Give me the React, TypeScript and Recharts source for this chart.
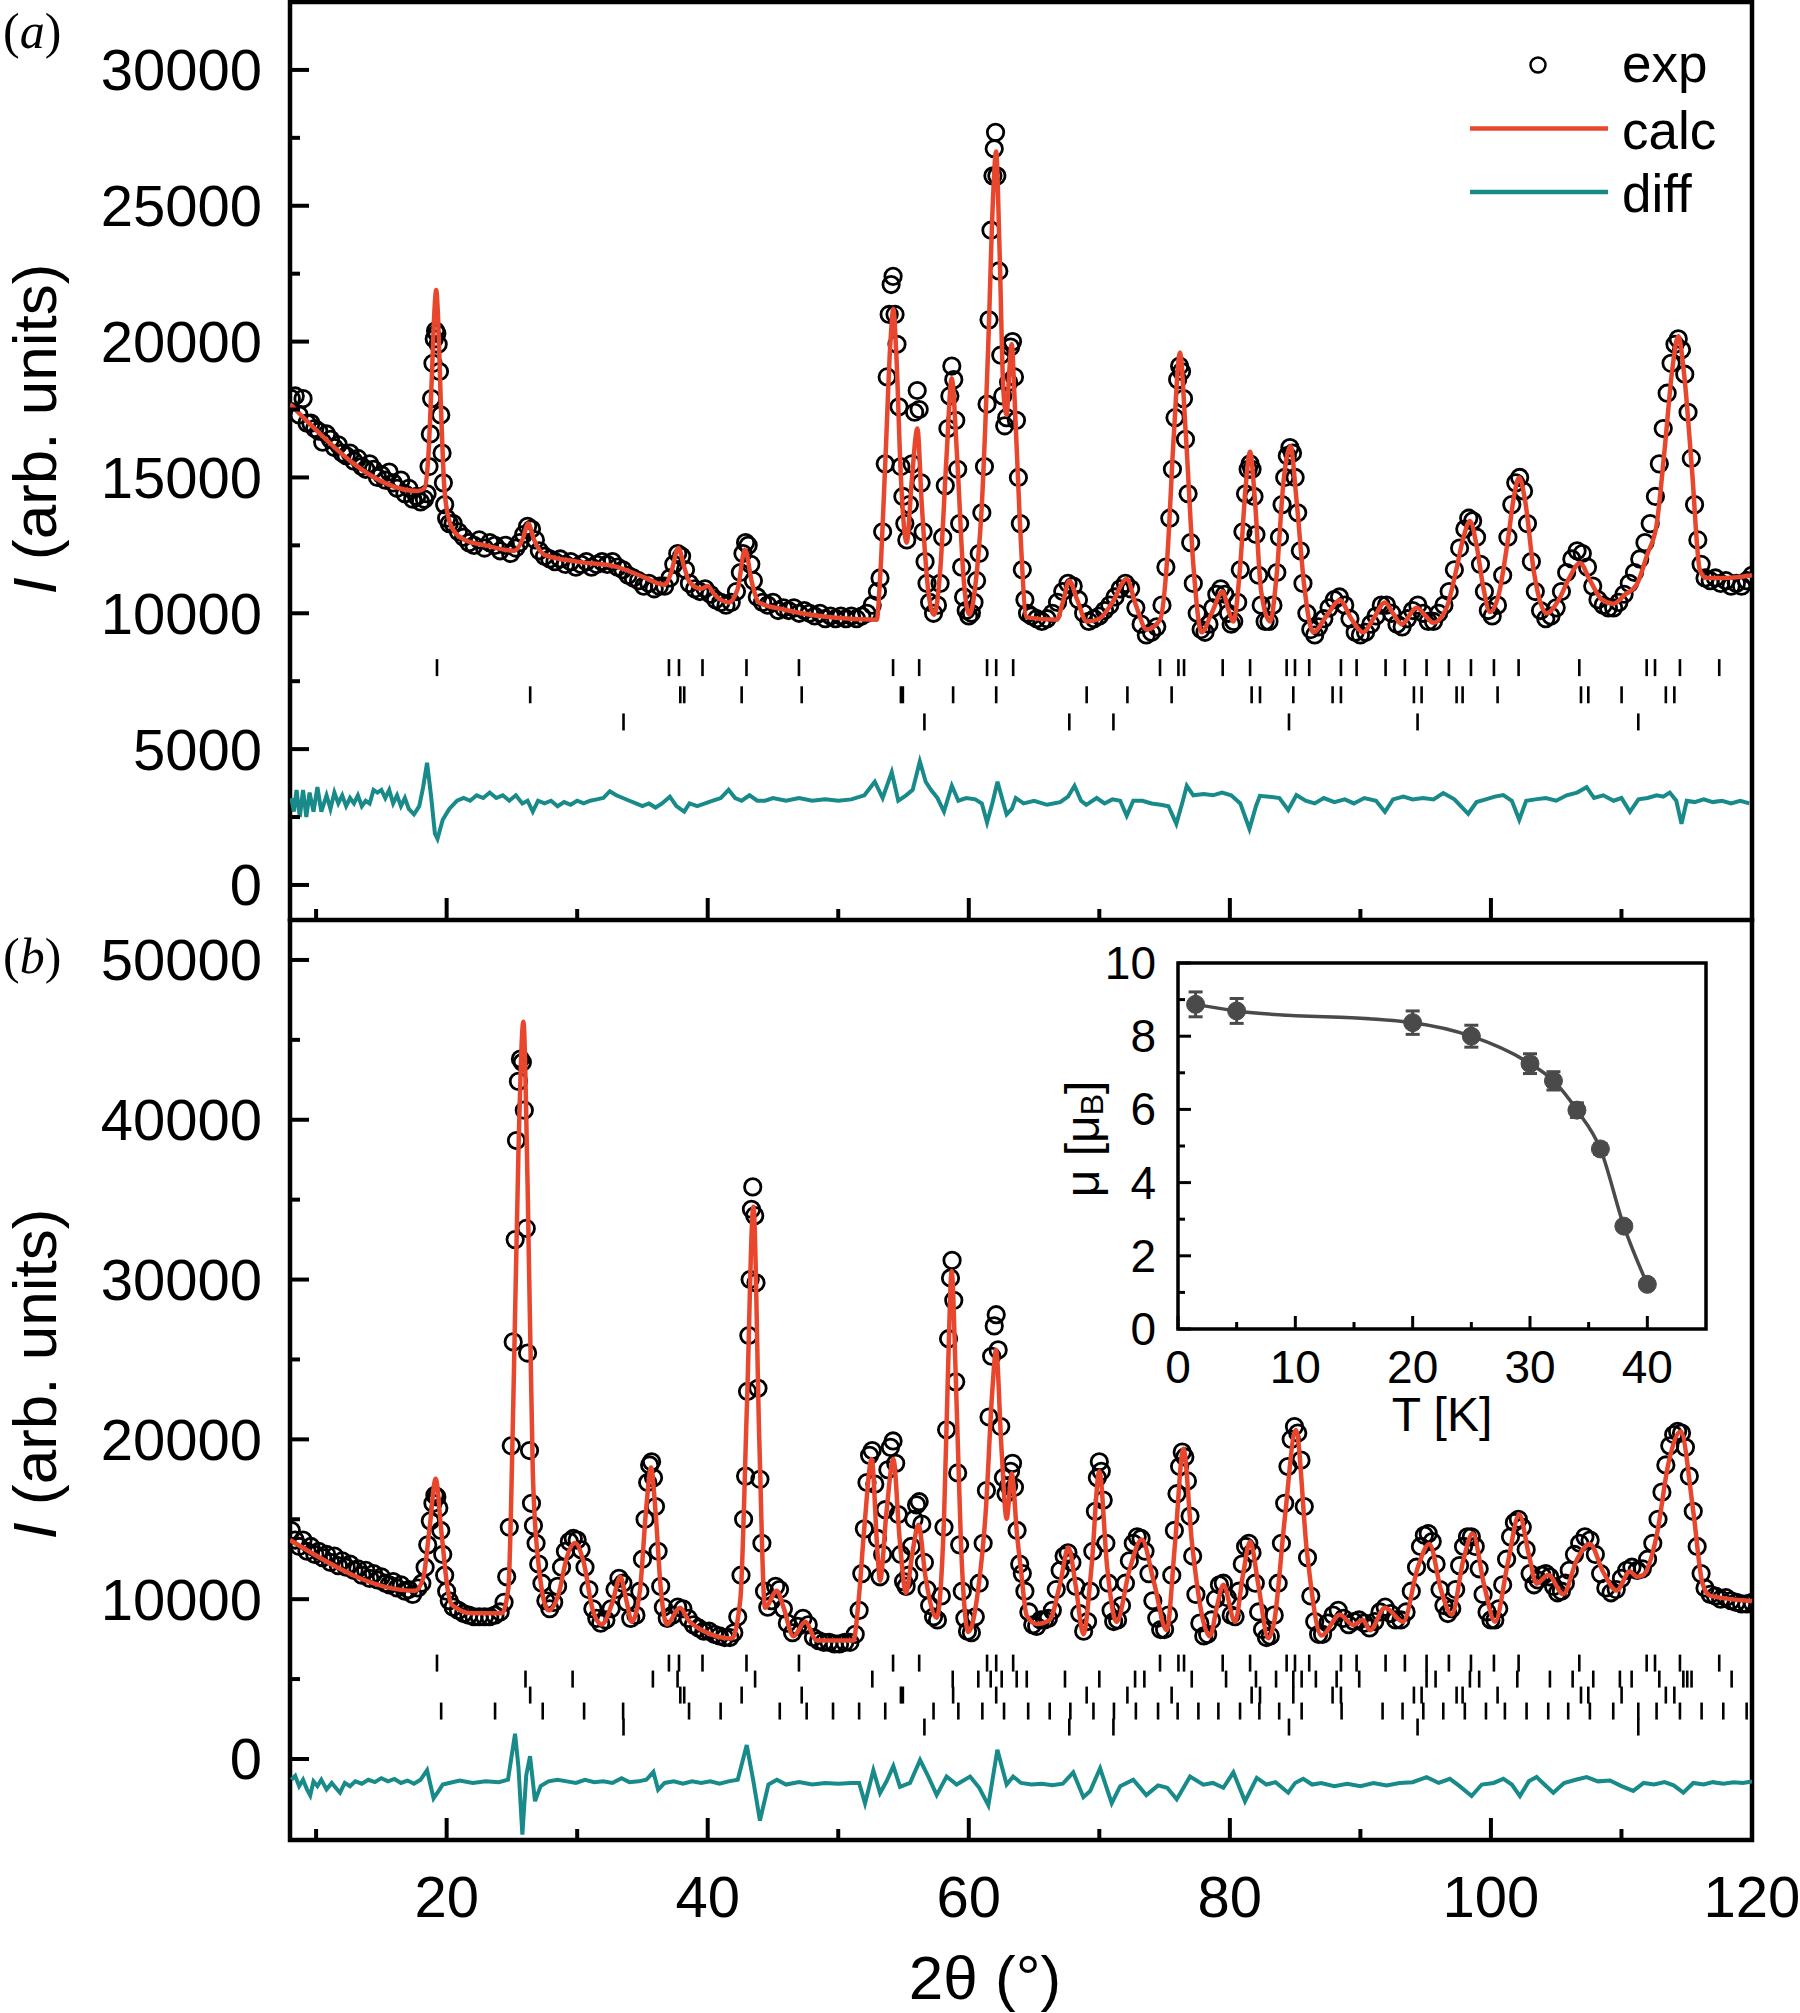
import React from 'react';
import { ComposedChart, Line, Scatter, XAxis, YAxis, ReferenceArea, ErrorBar, Legend, Customized } from 'recharts';

type Pt = [number, number];

const FONT = "'Liberation Sans', Arial, Helvetica, sans-serif";
const SERIF = "'Liberation Serif', 'Times New Roman', serif";
const RED = '#e8472e';
const TEAL = '#178a89';
const GRAY = '#4a4a4a';

// ---------- panel (a) ----------
const expA: Pt[] = [
  [8.1,17900],[8.4,18000],[8.7,17300],[9.0,17900],[9.3,17000],[9.6,17000],[9.9,16800],[10.2,16700],[10.5,16300],[10.8,16600],
  [11.1,16400],[11.4,16100],[11.7,16200],[12.0,15900],[12.3,15800],[12.6,15900],[12.9,15600],[13.2,15700],[13.5,15400],[13.8,15300],
  [14.1,15500],[14.4,15300],[14.7,15000],[15.0,15100],[15.3,14900],[15.6,15200],[15.9,14800],[16.2,14600],[16.5,14900],[16.8,14400],
  [17.1,14600],[17.4,14200],[17.7,14300],[18.0,14100],[18.3,14200],[18.5,14400],[18.65,15400],[18.75,16600],[18.85,17900],[18.95,19200],
  [19.05,20100],[19.15,20400],[19.25,20300],[19.35,19900],[19.45,18900],[19.55,17300],[19.65,15900],[19.75,14800],[19.85,14000],[20.0,13500],
  [20.2,13300],[20.5,13300],[20.9,13000],[21.3,12800],[21.7,12600],[22.1,12500],[22.5,12700],[22.9,12400],[23.3,12600],[23.7,12500],
  [24.1,12300],[24.5,12500],[24.9,12200],[25.3,12400],[25.6,12600],[25.9,12900],[26.2,13200],[26.5,13100],[26.8,12700],[27.1,12300],
  [27.5,12100],[27.9,12000],[28.3,11900],[28.7,12000],[29.1,11800],[29.5,11900],[29.9,11700],[30.3,11800],[30.7,11900],[31.1,11700],
  [31.5,11800],[31.9,11900],[32.3,11800],[32.7,11900],[33.1,11700],[33.5,11600],[33.9,11400],[34.3,11300],[34.7,11200],[35.1,11000],
  [35.5,11100],[35.9,10900],[36.3,11000],[36.7,11000],[37.1,11300],[37.4,11800],[37.7,12200],[38.0,12100],[38.3,11600],[38.6,11100],
  [39.0,10900],[39.4,10800],[39.8,10900],[40.2,10700],[40.6,10500],[41.0,10400],[41.4,10300],[41.8,10400],[42.2,10800],[42.5,11500],
  [42.7,12200],[42.9,12600],[43.1,12500],[43.3,11800],[43.5,11200],[43.8,10600],[44.2,10400],[44.6,10300],[45.0,10400],[45.4,10100],
  [45.8,10200],[46.2,10100],[46.6,10200],[47.0,10000],[47.4,10100],[47.8,10000],[48.2,9900],[48.6,10000],[49.0,9800],[49.4,9900],
  [49.8,9800],[50.2,9900],[50.6,9800],[51.0,9900],[51.4,9800],[51.8,9900],[52.2,10000],[52.6,10300],[53.0,10800],[53.2,11300],
  [53.4,13000],[53.6,15500],[53.75,18700],[53.9,21000],[54.05,22100],[54.2,22400],[54.35,21000],[54.5,19900],[54.65,17600],[54.8,15400],
  [54.95,14300],[55.1,13300],[55.25,12700],[55.45,14000],[55.65,15500],[55.85,17400],[56.05,18200],[56.2,17500],[56.35,14800],[56.5,13000],
  [56.65,11900],[56.8,11100],[57.0,10400],[57.3,10000],[57.6,10300],[57.8,11100],[58.0,12800],[58.2,14700],[58.4,16800],[58.55,18000],
  [58.7,19100],[58.85,18600],[59.0,17100],[59.15,15300],[59.3,13300],[59.45,11700],[59.6,10600],[59.8,10100],[60.0,9900],[60.2,10000],
  [60.4,10400],[60.6,11200],[60.8,12200],[61.0,13700],[61.2,15400],[61.4,17700],[61.55,20800],[61.7,24100],[61.85,26100],[61.95,27100],
  [62.05,27700],[62.15,26100],[62.3,22600],[62.45,19500],[62.6,18000],[62.75,16900],[62.9,17200],[63.05,18500],[63.2,19800],[63.35,20000],
  [63.5,18700],[63.65,17100],[63.8,15000],[63.95,13300],[64.1,11600],[64.3,10500],[64.5,10000],[64.8,9900],[65.2,9800],[65.6,9700],
  [66.0,9800],[66.4,10000],[66.8,10400],[67.2,10800],[67.6,11100],[68.0,11000],[68.4,10500],[68.8,10000],[69.2,9700],[69.6,9800],
  [70.0,9900],[70.4,10100],[70.8,10300],[71.2,10600],[71.6,10900],[72.0,11100],[72.4,10900],[72.8,10200],[73.2,9600],[73.6,9200],
  [74.0,9300],[74.4,9500],[74.8,10300],[75.1,11700],[75.4,13500],[75.6,15300],[75.8,17200],[76.0,18600],[76.15,19100],[76.3,18900],
  [76.45,17900],[76.6,16400],[76.8,14400],[77.0,12600],[77.2,11100],[77.5,10000],[77.8,9400],[78.1,9300],[78.4,9600],[78.7,10200],
  [79.0,10700],[79.3,10900],[79.6,10700],[79.9,10000],[80.1,9600],[80.3,9700],[80.6,10400],[80.8,11600],[81.0,13000],[81.2,14400],
  [81.4,15300],[81.55,15500],[81.7,15300],[81.85,14300],[82.0,12900],[82.2,11400],[82.4,10300],[82.7,9700],[83.0,9700],[83.3,10300],
  [83.6,11500],[83.8,12800],[84.0,14000],[84.2,15000],[84.4,15800],[84.6,16100],[84.8,15900],[85.0,15000],[85.2,13700],[85.4,12300],
  [85.6,11100],[85.9,10000],[86.2,9400],[86.5,9200],[86.8,9500],[87.2,9800],[87.6,10200],[88.0,10500],[88.4,10600],[88.8,10300],
  [89.2,9800],[89.6,9300],[90.0,9200],[90.4,9300],[90.8,9600],[91.2,9900],[91.6,10300],[92.0,10300],[92.4,10000],[92.8,9600],
  [93.2,9500],[93.6,9800],[94.0,10100],[94.4,10300],[94.8,10000],[95.2,9700],[95.6,9700],[96.0,10000],[96.4,10300],[96.8,10800],
  [97.2,11600],[97.6,12400],[98.0,13100],[98.3,13500],[98.6,13400],[98.9,12800],[99.2,11800],[99.5,10800],[99.8,10100],[100.1,9900],
  [100.5,10300],[100.9,11400],[101.3,12800],[101.6,14000],[101.9,14800],[102.2,15000],[102.5,14500],[102.8,13300],[103.1,11900],[103.4,10800],
  [103.8,10100],[104.2,9800],[104.6,9900],[105.0,10200],[105.4,10800],[105.8,11500],[106.2,12000],[106.6,12300],[107.0,12200],[107.4,11700],
  [107.8,11000],[108.2,10500],[108.6,10300],[109.0,10200],[109.4,10200],[109.8,10400],[110.2,10700],[110.6,11100],[111.0,11500],[111.4,12000],
  [111.8,12600],[112.2,13300],[112.6,14300],[112.9,15500],[113.2,16800],[113.5,18100],[113.8,19200],[114.1,19900],[114.35,20100],[114.6,19700],
  [114.85,18800],[115.1,17400],[115.35,15700],[115.6,14000],[115.85,12700],[116.1,11800],[116.4,11300],[116.8,11200],[117.2,11300],[117.6,11100],
  [118.0,11200],[118.4,11000],[118.8,11100],[119.2,11000],[119.6,11200],[120.0,11400],
];

const calcA: Pt[] = [
  [8,17700],[17.8,14500],[18.3,14600],[18.6,15800],[18.85,18500],[19.05,21000],[19.2,21900],[19.35,20800],[19.55,17800],[19.8,14800],
  [20.1,13600],[20.6,13000],[21.4,12700],[23,12500],[25.2,12300],[25.8,12700],[26.25,13300],[26.7,12700],[27.5,12150],[30,11900],
  [33.1,11700],[35,11350],[36.7,11050],[37.2,11500],[37.75,12400],[38.2,11700],[38.6,11150],[39.5,10900],[40,11000],[40.5,10700],
  [41.6,10400],[42.3,10900],[42.85,12350],[43.4,11100],[43.9,10400],[45.9,10130],[49.4,9850],[52.95,9760],[53.2,11260],[53.6,15500],
  [54.0,20000],[54.22,21200],[54.45,19500],[54.8,15000],[55.24,12600],[55.65,15000],[56.06,16800],[56.4,14000],[56.9,10800],[57.34,9950],
  [57.8,11500],[58.3,15800],[58.69,18650],[59.1,15800],[59.6,11300],[60.04,9950],[60.5,11000],[61.0,14000],[61.5,20000],[61.85,25200],
  [62.09,27000],[62.35,23500],[62.65,18200],[62.9,17300],[63.1,18900],[63.29,19900],[63.5,18000],[63.9,13500],[64.44,9850],[66.74,9760],
  [67.2,10400],[67.7,11200],[68.3,10500],[69.03,9700],[70,9800],[71,10400],[72.1,11260],[72.8,10300],[73.63,9400],[74.65,9760],
  [75.2,12000],[75.7,16500],[76.18,19600],[76.6,16800],[77.2,11800],[77.84,9300],[78.6,10000],[79.45,10800],[79.9,10100],[80.27,9700],
  [80.8,11800],[81.2,14600],[81.55,15950],[81.9,14300],[82.4,10800],[83.08,9700],[83.6,11500],[84.1,14800],[84.65,16150],[85.1,14200],
  [85.7,11000],[86.39,9300],[87.4,9900],[88.43,10480],[89.3,9800],[90.22,9300],[91.0,9800],[91.88,10400],[92.5,10000],[93.16,9600],
  [94.31,10200],[95.0,9900],[95.58,9650],[96.6,10200],[97.3,11500],[97.9,12800],[98.39,13400],[98.9,12500],[99.4,11000],[99.92,10050],
  [100.6,10700],[101.3,12700],[101.8,14400],[102.17,15000],[102.6,14200],[103.3,11500],[104.27,10000],[105.2,10500],[106.0,11300],[106.82,11850],
  [107.6,11200],[108.5,10500],[109.37,10350],[110.3,10700],[111.16,11050],[112.0,12200],[112.69,13250],[113.3,16000],[113.9,19000],[114.35,20200],
  [114.8,18800],[115.4,15300],[116.0,11600],[116.5,11300],[118,11300],[120,11400],
];

const diffA: Pt[] = [
  [8.1,3200],[8.3,2700],[8.5,3500],[8.75,2500],[9.0,3500],[9.25,2500],[9.5,3400],[9.8,2700],[10.1,3600],[10.4,2700],
  [10.8,3300],[11.1,2800],[11.4,3400],[11.7,3000],[12.0,3300],[12.3,2900],[12.6,3200],[12.9,3000],
  [13.2,3300],[13.5,2900],[13.8,3100],[14.1,3000],[14.4,3500],[14.7,3400],[15.0,3500],[15.3,3200],[15.6,3500],[15.9,3000],
  [16.2,3300],[16.5,2900],[16.8,3200],[17.1,2800],[17.5,2600],[17.9,2900],[18.2,3600],[18.5,4500],[18.8,3300],[19.1,1900],
  [19.3,1700],[19.7,2400],[20.2,2800],[20.8,3100],[21.3,3200],[21.8,3100],[22.3,3300],[22.8,3200],[23.3,3400],[23.8,3200],
  [24.3,3300],[24.8,3100],[25.3,3300],[25.8,3000],[26.2,3100],[26.6,2700],[27.0,3100],[27.5,3000],[28.0,3100],[28.5,2900],
  [29.0,3050],[29.5,2950],[30.0,3100],[30.5,3000],[31.0,3100],[31.5,3150],[32.0,3200],[32.5,3450],[33.0,3300],[33.5,3200],
  [34.0,3100],[34.5,3000],[35.0,2900],[35.5,3000],[36.0,2850],[36.5,3000],[37.1,3250],[37.6,2900],[38.2,2700],[38.6,3000],
  [39.2,2900],[39.8,3000],[40.4,3100],[41.0,3200],[41.6,3500],[42.1,3200],[42.6,3100],[43.2,3300],[43.8,3100],[44.4,3100],
  [45,3200],[46,3100],[47,3200],[48,3100],[49,3150],[50,3100],[51,3150],[52,3300],[52.8,3800],[53.4,3200],
  [54.1,4150],[54.6,3100],[55.2,3300],[55.7,3500],[56.25,4550],[56.7,3800],[57.1,3500],[57.6,3200],[58.1,2700],[58.7,3650],
  [59.2,3100],[59.8,3200],[60.5,3150],[61.0,3000],[61.4,2300],[61.8,3000],[62.2,3800],[62.6,3100],[62.9,2600],[63.3,2800],
  [63.6,3200],[64.2,3000],[65,3100],[66,2950],[67,3050],[67.6,3250],[68.1,3650],[68.6,3100],[69.0,2950],[69.8,3200],
  [70.4,3000],[71.0,3150],[71.6,3100],[72.1,2550],[72.6,3100],[73.3,3100],[74.0,3000],[74.7,2950],[75.3,2900],[75.9,2250],
  [76.4,3100],[76.7,3650],[77.2,3300],[78,3350],[78.7,3300],[79.4,3400],[80.1,3300],[80.8,3000],[81.5,2060],[82.0,2900],
  [82.3,3280],[83,3250],[83.8,3200],[84.47,2760],[85.1,3310],[85.8,3100],[86.5,3000],[87.2,3200],[88,3050],[88.8,3150],
  [89.5,3000],[90.3,3200],[91.2,3100],[91.88,2690],[92.5,3150],[93.3,3250],[94,3150],[94.8,3200],[95.6,3150],[96.35,3380],
  [97.2,3150],[98.26,2620],[98.9,3050],[99.6,3150],[100.3,3250],[100.95,3310],[101.6,3100],[102.17,2400],[102.7,3100],[103.4,3150],
  [104.2,3200],[105.0,3100],[105.8,3300],[106.6,3400],[107.33,3600],[107.9,3200],[108.6,3300],[109.4,3100],[110.0,3200],[110.65,2690],
  [111.3,3150],[112.0,3200],[112.7,3300],[113.2,3250],[113.7,3400],[114.2,3100],[114.6,2250],[115.0,3100],[115.6,3050],[116.3,3150],
  [117,3050],[117.7,3100],[118.4,3000],[119.1,3100],[119.8,3000],
];

// Bragg reflection positions (2θ)
const phase1: number[] = [19.26,37.03,37.8,39.6,42.97,46.99,54.2,56.2,61.4,62.1,63.4,74.65,76.06,76.49,79.45,81.55,84.35,84.99,86.08,88.51,
  89.71,91.93,93.41,95.07,96.78,98.47,100.23,102.12,106.77,111.93,112.57,114.48,117.49];
const phase2: number[] = [26.4,37.9,38.2,42.6,47.2,54.8,54.95,58.8,62.1,69.03,72.15,75.54,81.67,82.31,84.86,87.87,88.51,94.1,94.69,97.37,
  97.83,100.51,106.9,107.46,110.01,113.4,114.05];
const phase3: number[] = [33.55,56.6,67.7,71.08,84.53,94.38,111.29];
const magPhaseB: number[] = [26.04,29.65,35.8,37.69,43.63,52.61,58.77,60.73,61.68,62.52,63.67,64.44,67.37,70.0,72.74,73.45,77.08,79.71,82.0,83.54,
  84.86,85.5,86.59,88.18,89.91,95.07,95.76,98.39,99.1,102.02,104.52,106.26,107.84,109.88,110.78,112.9,114.74,115.04,115.37,118.44];
const magPhaseD: number[] = [19.58,23.71,27.36,30.53,33.52,38.57,40.99,45.52,47.58,49.6,51.6,53.6,57.3,59.2,61.04,62.7,64.55,66.2,67.78,69.55,
  71.12,72.8,74.5,76.0,77.59,79.12,80.78,82.26,83.78,85.5,88.56,91.7,93.23,94.82,96.35,98.0,99.62,101.07,102.73,104.39,
  105.92,107.58,109.37,111.29,112.69,114.48,116.14,117.8,119.59];
const rowLevelsA = [8000, 7000, 6000];
const rowLevelsB = [6000, 5000, 4000, 3000, 2000];

// ---------- panel (b) ----------
const expB: Pt[] = [
  [8.1,14300],[8.4,13700],[8.7,13300],[9.0,13700],[9.3,13000],[9.6,13300],[9.9,12800],[10.2,13000],[10.5,12600],[10.8,12800],
  [11.1,12300],[11.4,12700],[11.7,12100],[12.0,12400],[12.3,12000],[12.6,12200],[12.9,11800],[13.2,11900],[13.5,11500],[13.8,11800],
  [14.1,11300],[14.4,11600],[14.7,11200],[15.0,11400],[15.3,11000],[15.6,10900],[15.9,11100],[16.2,10700],[16.5,10900],[16.8,10500],
  [17.1,10600],[17.4,10300],[17.8,10700],[18.1,11000],[18.35,12000],[18.55,13400],[18.75,14900],[18.95,16000],[19.1,16500],[19.25,16400],
  [19.4,15700],[19.55,14300],[19.7,12800],[19.85,11500],[20.0,10500],[20.2,9900],[20.5,9500],[20.9,9300],[21.3,9100],[21.7,9000],
  [22.1,8900],[22.5,8900],[22.9,8900],[23.3,8900],[23.7,9000],[24.1,9200],[24.4,9800],[24.6,11400],[24.8,14500],[24.95,19600],
  [25.1,26100],[25.25,32500],[25.35,38700],[25.5,42400],[25.65,43800],[25.8,43600],[25.95,40600],[26.1,33200],[26.2,25400],[26.35,19300],
  [26.5,16000],[26.65,14600],[26.85,13500],[27.05,12200],[27.3,11000],[27.6,9900],[27.9,9400],[28.2,9800],[28.5,10800],[28.8,12000],
  [29.1,13000],[29.4,13600],[29.7,13800],[30.0,13700],[30.3,13100],[30.6,12000],[30.9,10600],[31.2,9400],[31.5,8800],[31.8,8500],
  [32.2,8700],[32.6,9400],[32.9,10600],[33.2,11300],[33.5,11000],[33.8,9800],[34.1,8800],[34.5,9000],[34.8,10500],[35.0,12500],
  [35.2,15000],[35.4,17300],[35.55,18400],[35.7,18600],[35.85,17600],[36.0,15800],[36.2,13000],[36.4,10800],[36.6,9500],[36.9,8800],
  [37.3,9000],[37.7,9500],[38.1,9400],[38.5,8800],[38.9,8400],[39.3,8200],[39.7,8000],[40.1,8000],[40.5,7800],[40.9,7700],
  [41.3,7600],[41.7,7600],[42.0,7900],[42.3,8900],[42.55,11500],[42.75,15000],[42.9,17700],[43.05,23000],[43.15,26500],[43.25,30000],
  [43.35,34400],[43.45,35800],[43.6,34000],[43.7,29800],[43.85,23200],[44.0,17500],[44.15,13500],[44.35,10500],[44.6,9500],[44.9,9900],
  [45.2,10800],[45.5,10600],[45.8,9400],[46.1,8500],[46.5,7900],[46.9,8300],[47.3,8800],[47.7,8400],[48.1,7600],[48.5,7400],
  [48.9,7300],[49.3,7300],[49.7,7200],[50.1,7200],[50.5,7300],[50.9,7300],[51.3,7800],[51.6,9300],[51.8,11600],[52.0,14400],
  [52.2,17300],[52.4,19000],[52.6,19300],[52.8,17200],[53.0,13800],[53.2,11400],[53.4,12800],[53.6,15600],[53.8,18100],[54.0,19500],
  [54.2,19900],[54.4,18500],[54.6,15300],[54.8,12800],[55.0,11100],[55.2,10800],[55.4,11500],[55.6,13300],[55.8,15000],[56.0,15900],
  [56.2,16100],[56.4,14700],[56.6,12300],[56.8,10600],[57.0,9600],[57.3,8900],[57.6,8700],[57.9,10200],[58.1,14500],[58.3,20600],
  [58.45,26300],[58.6,30100],[58.72,31200],[58.85,28700],[59.0,23600],[59.15,17900],[59.3,13400],[59.5,10500],[59.7,8800],[59.9,8000],
  [60.2,7900],[60.5,8900],[60.8,11000],[61.1,13500],[61.35,16800],[61.55,21400],[61.75,25200],[61.95,27100],[62.1,27800],[62.25,25600],
  [62.45,20800],[62.65,17600],[62.85,16600],[63.05,17100],[63.2,18000],[63.35,18500],[63.5,17000],[63.7,14300],[63.9,12200],[64.1,11600],
  [64.3,10500],[64.6,9200],[64.9,8400],[65.2,8300],[65.5,8700],[65.8,8700],[66.1,8800],[66.4,9300],[66.7,10600],[67.0,11800],
  [67.3,12700],[67.6,12900],[67.9,12300],[68.2,10800],[68.5,9100],[68.8,8000],[69.1,8600],[69.3,10500],[69.5,13000],[69.7,15500],
  [69.85,17600],[70.0,18600],[70.15,18000],[70.3,16200],[70.5,13500],[70.7,11000],[70.9,9300],[71.1,8600],[71.4,8700],[71.7,9600],
  [72.0,11000],[72.3,12400],[72.6,13500],[72.9,13900],[73.2,13800],[73.5,13000],[73.8,11600],[74.1,9900],[74.4,8800],[74.7,8100],
  [75.0,8100],[75.3,9000],[75.55,11500],[75.75,14300],[75.95,16600],[76.15,18300],[76.35,19200],[76.55,18900],[76.75,17400],[76.95,15200],
  [77.15,12700],[77.4,10300],[77.7,8500],[78.0,7700],[78.3,7800],[78.6,8700],[78.9,10000],[79.2,10900],[79.5,11000],[79.8,10100],
  [80.1,9000],[80.4,8900],[80.7,10500],[80.95,12200],[81.2,13300],[81.45,13500],[81.7,12900],[81.95,11000],[82.2,9200],[82.5,8100],
  [82.8,7600],[83.1,7700],[83.4,9000],[83.7,11000],[83.95,13500],[84.2,16000],[84.45,18300],[84.7,20000],[84.95,20800],[85.2,20400],
  [85.45,18700],[85.7,15800],[85.95,12600],[86.2,10200],[86.5,8600],[86.8,7800],[87.1,7800],[87.5,8500],[87.9,9000],[88.3,9300],
  [88.7,8800],[89.1,8400],[89.5,8600],[89.9,8700],[90.3,8500],[90.7,8200],[91.1,8600],[91.5,9200],[91.9,9500],[92.3,9100],
  [92.7,8700],[93.1,8700],[93.5,9200],[93.9,10500],[94.3,12000],[94.6,13300],[94.9,14000],[95.2,14100],[95.5,13600],[95.8,12200],
  [96.1,10600],[96.4,9600],[96.7,9100],[97.0,9400],[97.3,10600],[97.6,12100],[97.9,13300],[98.2,13900],[98.5,13900],[98.8,13300],
  [99.1,11900],[99.4,10300],[99.7,9200],[100.0,8700],[100.3,8700],[100.6,9400],[100.9,10900],[101.2,12500],[101.5,13900],[101.8,14800],
  [102.1,15000],[102.4,14500],[102.7,13100],[103.0,11600],[103.3,10900],[103.6,11200],[103.9,11500],[104.2,11600],[104.5,11400],[104.8,10800],
  [105.1,10400],[105.4,10500],[105.7,11000],[106.0,11800],[106.4,12800],[106.8,13500],[107.2,13900],[107.6,13700],[108.0,12800],[108.4,11600],
  [108.8,10700],[109.2,10400],[109.6,10600],[110.0,11300],[110.4,11800],[110.8,12000],[111.2,11800],[111.6,11900],[112.0,12500],[112.4,13500],
  [112.8,15000],[113.1,16700],[113.4,18400],[113.7,19600],[114.0,20300],[114.3,20500],[114.6,20400],[114.9,19500],[115.2,17700],[115.5,15500],
  [115.8,13300],[116.1,11600],[116.4,10700],[116.8,10300],[117.2,10200],[117.6,10000],[118.0,10100],[118.4,9900],[118.8,9800],[119.2,9700],
  [119.6,9700],[120.0,9800],
];

const calcB: Pt[] = [
  [8,13700],[17.58,10520],[18.2,11300],[18.7,14500],[19.16,17540],[19.6,14200],[20.1,10500],[20.39,9650],[21.92,9120],[24.22,9120],
  [24.73,10700],[25.1,22000],[25.5,38000],[25.88,46140],[26.2,36000],[26.6,18000],[27.0,12500],[27.79,9300],[28.6,10400],[29.2,12600],
  [29.84,13510],[30.5,12300],[31.2,9300],[31.88,8420],[32.7,9800],[33.3,11400],[33.8,9800],[34.18,8590],[34.8,10500],[35.3,15800],
  [35.66,18240],[36.0,15500],[36.4,10700],[36.86,8420],[37.88,9470],[38.5,8700],[39.54,8070],[41.84,7540],[42.5,10000],[43.0,22000],
  [43.5,34560],[43.95,20000],[44.39,9470],[45.29,10520],[45.8,9500],[46.56,7680],[47.46,8580],[48.35,7420],[51.16,7420],[51.54,9740],
  [52.0,14500],[52.56,18770],[53.0,13000],[53.2,11160],[53.7,15500],[54.22,18770],[54.7,13800],[55.19,10390],[55.7,13000],[56.14,14650],
  [56.7,11300],[57.54,8840],[58.1,15000],[58.4,24000],[58.69,30520],[59.0,24000],[59.4,13500],[59.97,7940],[60.7,10500],[61.3,15500],
  [61.8,23000],[62.09,25610],[62.5,19500],[62.9,15030],[63.29,17870],[63.7,14000],[64.0,11800],[64.44,8970],[65.2,8450],[66.2,8710],
  [67.0,11000],[67.63,13230],[68.2,10800],[68.78,7810],[69.4,12000],[70.0,18000],[70.6,12000],[71.33,8580],[72.3,11800],[73.25,13740],
  [74.2,11000],[75.16,8060],[75.8,13500],[76.44,19420],[77.1,13500],[78.48,7680],[79.0,9500],[79.5,10900],[80.4,8580],[81.0,11500],
  [81.55,13610],[82.2,10800],[82.95,7550],[83.4,8600],[84.2,15000],[85.06,20590],[85.9,13000],[87.03,7730],[88.43,9030],[89.45,8380],
  [90.2,8700],[90.73,8050],[91.88,9460],[93.28,8590],[94.4,12000],[95.28,13460],[96.2,10500],[96.99,9030],[97.9,12500],[98.6,14110],
  [99.5,10800],[100.31,8590],[101.3,12300],[102.17,15300],[102.9,12800],[103.5,10970],[104.39,11510],[105.54,10320],[106.6,12500],[107.58,13460],
  [108.6,11700],[109.63,10540],[110.65,11730],[111.2,11400],[111.67,11510],[112.7,14000],[113.6,18500],[114.53,20490],[115.5,15500],[116.2,11000],
  [116.78,10220],[119.84,9890],[120,9880],
];

const diffB: Pt[] = [
  [8.1,-1300],[8.4,-1060],[8.7,-1700],[9.0,-1300],[9.3,-1900],[9.55,-2280],[9.8,-1400],[10.1,-1700],[10.4,-1300],[10.8,-1900],
  [11.2,-1500],[11.5,-1800],[11.83,-2110],[12.2,-1500],[12.6,-1700],[13.0,-1400],[13.5,-1550],[14.0,-1300],[14.5,-1450],[15.0,-1200],
  [15.5,-1400],[16.0,-1250],[16.5,-1500],[17.0,-1350],[17.5,-1550],[18.0,-1300],[18.5,-700],[19.0,-2460],[19.3,-2100],[19.7,-1600],
  [20.2,-1500],[21,-1350],[22,-1500],[23,-1400],[24,-1450],[24.7,-1300],[25.24,1580],[25.5,-500],[25.8,-4740],[26.1,-1000],
  [26.39,170],[26.77,-2640],[27.2,-1700],[27.8,-1400],[28.5,-1300],[29.2,-1400],[29.9,-1500],[30.6,-1300],[31.3,-1450],[32.0,-1400],
  [32.7,-1500],[33.4,-1200],[34.0,-1450],[34.7,-1400],[35.3,-1300],[35.84,-810],[36.2,-1930],[36.7,-1500],[37.4,-1400],[38.1,-1550],
  [38.8,-1400],[39.5,-1500],[40.2,-1400],[40.9,-1550],[41.6,-1400],[42.3,-1300],[42.99,870],[43.5,-1400],[44.0,-3860],[44.65,-1600],
  [45.3,-1300],[46,-1600],[47,-1450],[48,-1600],[49,-1500],[50,-1550],[51,-1500],[51.6,-1500],[52.05,-2770],[52.69,-710],
  [53.2,-2130],[53.7,-1400],[54.22,-450],[54.73,-1740],[55.5,-1500],[56.27,-65],[56.9,-1100],[57.54,-2260],[58.3,-1100],[59.07,-1600],
  [60.1,-1100],[60.8,-1800],[61.5,-2900],[62.19,580],[62.9,-1600],[63.4,-1100],[64.0,-1500],[64.8,-1600],[65.6,-1550],[66.4,-1650],
  [67.2,-1550],[68.0,-840],[68.78,-2390],[69.3,-2000],[70.06,-580],[70.95,-2770],[71.6,-1700],[72.6,-1300],[73.6,-2260],[74.5,-1650],
  [75.2,-1800],[75.93,-2520],[76.95,-1100],[77.97,-1610],[78.7,-1500],[79.5,-1800],[80.27,-840],[81.16,-2650],[82.06,-1180],[82.8,-1600],
  [83.5,-1450],[84.47,-2110],[85.0,-1500],[85.62,-1240],[86.3,-1600],[87,-1500],[88,-1700],[89,-1550],[90,-1700],[91,-1500],
  [92,-1650],[93,-1500],[94,-1450],[95.07,-1135],[96,-1500],[96.86,-1240],[97.6,-1700],[98.52,-2320],[99.3,-1600],[100.2,-1500],
  [100.95,-1240],[101.6,-1600],[102.22,-2320],[102.9,-1400],[103.5,-1130],[104.1,-1600],[104.78,-2110],[105.6,-1500],[106.5,-1300],[107.33,-1135],
  [108.2,-1400],[109.12,-1350],[110,-1700],[110.9,-2000],[111.7,-1500],[112.5,-1600],[113.3,-1450],[114,-1650],[114.74,-2110],[115.5,-1500],
  [116.3,-1600],[117,-1450],[117.8,-1550],[118.6,-1450],[119.3,-1500],[120,-1400],
];

// ---------- inset ----------
const insetT = [1.5, 5, 20, 25, 30, 32, 34, 36, 38, 40];
const insetMu = [8.87, 8.69, 8.37, 8.0, 7.25, 6.78, 5.98, 4.92, 2.81, 1.22];
const insetErr = [0.34, 0.34, 0.32, 0.3, 0.27, 0.25, 0.2, 0.15, 0.12, 0.12];

// ---------- ticks / labels / domains ----------
const xDomain: [number, number] = [8, 120];
const yDomainA: [number, number] = [-1290, 32500];
const yDomainB: [number, number] = [-5070, 52500];
const insetXDomain: [number, number] = [0, 45];
const insetYDomain: [number, number] = [0, 10];
const xTicks = [10, 20, 30, 40, 50, 60, 70, 80, 90, 100, 110, 120];
const yTicksA = [0, 2500, 5000, 7500, 10000, 12500, 15000, 17500, 20000, 22500, 25000, 27500, 30000];
const yTicksB = [0, 5000, 10000, 15000, 20000, 25000, 30000, 35000, 40000, 45000, 50000];
const insetXTicks = [0, 5, 10, 15, 20, 25, 30, 35, 40];
const insetYTicks = [0, 1, 2, 3, 4, 5, 6, 7, 8, 9, 10];
const legendItems = [
  { name: 'exp', kind: 'circle', color: '#000' },
  { name: 'calc', kind: 'line', color: RED },
  { name: 'diff', kind: 'line', color: TEAL },
];

const toXY = (arr: Pt[]) => arr.map(([x, y]) => ({ x, y }));
const toRow = (xs: number[], level: number) => xs.map((x) => ({ x, y: level }));

const expAData = toXY(expA);
const calcAData = toXY(calcA);
const diffAData = toXY(diffA);
const expBData = toXY(expB);
const calcBData = toXY(calcB);
const diffBData = toXY(diffB);
const rowsA = [phase1, phase2, phase3].map((r, i) => toRow(r, rowLevelsA[i]));
const rowsB = [phase1, magPhaseB, phase2, magPhaseD, phase3].map((r, i) => toRow(r, rowLevelsB[i]));
const insetData = insetT.map((T, i) => ({ T, mu: insetMu[i], err: insetErr[i] }));

// ---------- render helpers ----------
const OpenCircle = (p: any) => (p.cx == null ? null : <circle cx={p.cx} cy={p.cy} r={8.2} fill="none" stroke="#000" strokeWidth={2.8} />);
const RefMark = (p: any) => (p.cx == null ? null : <line x1={p.cx} x2={p.cx} y1={p.cy - 8.5} y2={p.cy + 8.5} stroke="#000" strokeWidth={2.6} />);

const makeYTick = (majorStep: number) => (props: any) => {
  const { x, y, payload } = props;
  const v = payload.value;
  const major = v % majorStep === 0;
  return (
    <g>
      <line x1={x} x2={x + (major ? 19 : 10)} y1={y} y2={y} stroke="#000" strokeWidth={4} />
      {major && (
        <text x={x - 28} y={y} textAnchor="end" dominantBaseline="central" fontFamily={FONT} fontSize={58} fill="#000">
          {v}
        </text>
      )}
    </g>
  );
};

const makeXTick = (showLabels: boolean) => (props: any) => {
  const { x, y, payload } = props;
  const v = payload.value;
  const major = v % 20 === 0;
  return (
    <g>
      <line x1={x} x2={x} y1={y} y2={y - (major ? 22 : 11)} stroke="#000" strokeWidth={4} />
      {showLabels && major && (
        <text x={x} y={y + 56} textAnchor="middle" dominantBaseline="central" fontFamily={FONT} fontSize={58} fill="#000">
          {v}
        </text>
      )}
    </g>
  );
};

const InsetYTick = (props: any) => {
  const { x, y, payload } = props;
  const v = payload.value;
  const major = v % 2 === 0;
  return (
    <g>
      <line x1={x} x2={x + (major ? 13 : 7)} y1={y} y2={y} stroke="#000" strokeWidth={3} />
      {major && (
        <text x={x - 22} y={y} textAnchor="end" dominantBaseline="central" fontFamily={FONT} fontSize={46} fill="#000">
          {v}
        </text>
      )}
    </g>
  );
};

const InsetXTick = (props: any) => {
  const { x, y, payload } = props;
  const v = payload.value;
  const major = v % 10 === 0;
  return (
    <g>
      <line x1={x} x2={x} y1={y} y2={y - (major ? 13 : 7)} stroke="#000" strokeWidth={3} />
      {major && (
        <text x={x} y={y + 38} textAnchor="middle" dominantBaseline="central" fontFamily={FONT} fontSize={46} fill="#000">
          {v}
        </text>
      )}
    </g>
  );
};

const YTitle = ({ cy }: { cy: number }) => (
  <text x={34} y={cy} transform={`rotate(-90 34 ${cy})`} textAnchor="middle" dominantBaseline="central" fontFamily={FONT} fontSize={62} fill="#000">
    <tspan fontStyle="italic">I</tspan>
    {' (arb. units)'}
  </text>
);

const XTitle = () => (
  <text x={985} y={1977 - 918} textAnchor="middle" dominantBaseline="central" fontFamily={FONT} fontSize={62} fill="#000">
    2θ (°)
  </text>
);

const PanelLabel = ({ letter, y }: { letter: string; y: number }) => (
  <text x={3} y={y} fontFamily={SERIF} fontSize={50} fill="#000">
    (<tspan fontStyle="italic">{letter}</tspan>)
  </text>
);

const LegendBox = () => (
  <svg width={330} height={220} style={{ display: 'block', overflow: 'visible' }}>
    {legendItems.map((it, i) => {
      const cy = 45 + i * 63.5;
      return (
        <g key={it.name}>
          {it.kind === 'circle' ? (
            <circle cx={98} cy={cy} r={7.5} fill="none" stroke={it.color} strokeWidth={2.5} />
          ) : (
            <line x1={30} x2={168} y1={cy} y2={cy} stroke={it.color} strokeWidth={4.5} />
          )}
          <text x={182} y={cy + (it.kind === 'circle' ? 17 : 20)} fontFamily={FONT} fontSize={53} fill="#000">
            {it.name}
          </text>
        </g>
      );
    })}
  </svg>
);

export default function App() {
  return (
    <div style={{ position: 'relative', width: 1800, height: 2013, background: '#fff', overflow: 'hidden' }}>
      <style>{'body{margin:0;background:#fff}'}</style>

      {/* Panel (a) */}
      <div style={{ position: 'absolute', left: 0, top: 0 }}>
        <ComposedChart width={1800} height={922} margin={{ top: 2, right: 48, bottom: 1, left: 0 }}>
          <XAxis dataKey="x" type="number" domain={xDomain} allowDataOverflow ticks={xTicks} interval={0}
            tick={makeXTick(false)} tickLine={false} axisLine={false} tickSize={0} tickMargin={0} height={1} />
          <YAxis type="number" domain={yDomainA} allowDataOverflow ticks={yTicksA} interval={0}
            tick={makeYTick(5000)} tickLine={false} axisLine={false} tickSize={0} tickMargin={0} width={290}
            label={<YTitle cy={429} />} />
          <Scatter data={expAData} dataKey="y" shape={OpenCircle} isAnimationActive={false} legendType="none" />
          <Line data={calcAData} dataKey="y" type="monotone" stroke={RED} strokeWidth={4.5} dot={false} activeDot={false} isAnimationActive={false} zIndex={700} />
          <Line data={diffAData} dataKey="y" type="linear" stroke={TEAL} strokeWidth={4} dot={false} activeDot={false} isAnimationActive={false} zIndex={700} />
          {rowsA.map((r, i) => (
            <Scatter key={i} data={r} dataKey="y" shape={RefMark} isAnimationActive={false} legendType="none" />
          ))}
          <ReferenceArea x1={xDomain[0]} x2={xDomain[1]} y1={yDomainA[0]} y2={yDomainA[1]}
            fill="none" fillOpacity={0} stroke="#000" strokeWidth={4.5} ifOverflow="visible" />
          <Legend layout="horizontal" verticalAlign="middle" align="center" content={<LegendBox />}
            wrapperStyle={{ position: 'absolute', left: 1440, top: 20, width: 330, height: 220 }} />
          <Customized component={() => <PanelLabel letter="a" y={48} />} />
        </ComposedChart>
      </div>

      {/* Panel (b) */}
      <div style={{ position: 'absolute', left: 0, top: 918 }}>
        <ComposedChart width={1800} height={1095} margin={{ top: 2, right: 48, bottom: 0, left: 0 }}>
          <XAxis dataKey="x" type="number" domain={xDomain} allowDataOverflow ticks={xTicks} interval={0}
            tick={makeXTick(true)} tickLine={false} axisLine={false} tickSize={0} tickMargin={0} height={173}
            label={<XTitle />} />
          <YAxis type="number" domain={yDomainB} allowDataOverflow ticks={yTicksB} interval={0}
            tick={makeYTick(10000)} tickLine={false} axisLine={false} tickSize={0} tickMargin={0} width={290}
            label={<YTitle cy={456} />} />
          <Scatter data={expBData} dataKey="y" shape={OpenCircle} isAnimationActive={false} legendType="none" />
          <Line data={calcBData} dataKey="y" type="monotone" stroke={RED} strokeWidth={4.5} dot={false} activeDot={false} isAnimationActive={false} zIndex={700} />
          <Line data={diffBData} dataKey="y" type="linear" stroke={TEAL} strokeWidth={4} dot={false} activeDot={false} isAnimationActive={false} zIndex={700} />
          {rowsB.map((r, i) => (
            <Scatter key={i} data={r} dataKey="y" shape={RefMark} isAnimationActive={false} legendType="none" />
          ))}
          <ReferenceArea x1={xDomain[0]} x2={xDomain[1]} y1={yDomainB[0]} y2={yDomainB[1]}
            fill="none" fillOpacity={0} stroke="#000" strokeWidth={4.5} ifOverflow="visible" />
          <Customized component={() => <PanelLabel letter="b" y={55} />} />
        </ComposedChart>
      </div>

      {/* Inset */}
      <div style={{ position: 'absolute', left: 1000, top: 900, pointerEvents: 'none' }}>
        <ComposedChart width={760} height={600} margin={{ top: 63, right: 54, bottom: 0, left: 0 }}>
          <XAxis dataKey="T" type="number" domain={insetXDomain} allowDataOverflow ticks={insetXTicks} interval={0}
            tick={InsetXTick} tickLine={false} axisLine={false} tickSize={0} tickMargin={0} height={171}
            label={
              <text x={452} y={538} textAnchor="middle" dominantBaseline="central" fontFamily={FONT} fontSize={48} fill="#000">
                T [K]
              </text>
            } />
          <YAxis type="number" domain={insetYDomain} allowDataOverflow ticks={insetYTicks} interval={0}
            tick={InsetYTick} tickLine={false} axisLine={false} tickSize={0} tickMargin={0} width={178}
            label={
              <text x={82} y={246} transform="rotate(-90 82 246)" textAnchor="middle" dominantBaseline="central" fontFamily={FONT} fontSize={48} fill="#000">
                μ [μ<tspan dy={10} fontSize={32}>B</tspan><tspan dy={-10}>]</tspan>
              </text>
            } />
          <Line data={insetData} dataKey="mu" type="monotone" stroke={GRAY} strokeWidth={3.5}
            dot={{ r: 9, fill: GRAY, stroke: GRAY, strokeWidth: 1 }} activeDot={false} isAnimationActive={false}>
            <ErrorBar dataKey="err" width={7} strokeWidth={3} stroke={GRAY} direction="y" />
          </Line>
          <ReferenceArea x1={insetXDomain[0]} x2={insetXDomain[1]} y1={insetYDomain[0]} y2={insetYDomain[1]}
            fill="none" fillOpacity={0} stroke="#000" strokeWidth={3.5} ifOverflow="visible" />
        </ComposedChart>
      </div>
    </div>
  );
}
